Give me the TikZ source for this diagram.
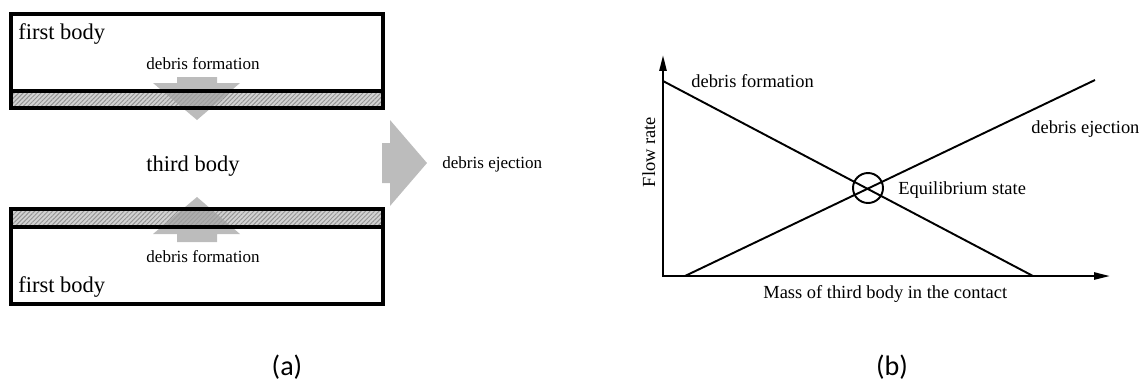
\documentclass[tikz,border=0pt]{standalone}
\usepackage{fontspec}
\setmainfont{Liberation Serif}
\newfontfamily\capfont{Carlito}
\usetikzlibrary{arrows.meta, patterns.meta}
\definecolor{cArrow}{RGB}{160,160,160}
\definecolor{cHatch}{RGB}{210,210,210}
\tikzset{
	body/.style ={draw=black, line width=1.9pt},
	band/.style ={fill=cHatch},
	hatch/.style={pattern={Lines[angle=45, distance=1.8pt, line width=0.55pt]}, pattern color=gray!85},
	flux/.style ={fill=cArrow, fill opacity=0.7},
	big/.style  ={font=\fontsize{12.8}{15}\selectfont, inner sep=0pt},
	small/.style={font=\fontsize{9.7}{12}\selectfont, inner sep=0pt},
	lbl/.style  ={font=\fontsize{10.5}{13}\selectfont, inner sep=0pt},
	panel/.style={font=\capfont\fontsize{16}{19}\selectfont, inner sep=0pt},
	axis/.style ={line width=1.2pt, {Triangle[length=9pt,width=4pt]}-{Triangle[length=9pt,width=4pt]}},
	rate/.style ={line width=1.1pt},
}
\begin{document}
\begin{tikzpicture}[x=0.02cm, y=-0.02cm]
	\useasboundingbox (0,0) rectangle (1140,380);
	% (a) first bodies and third body
	\fill[band] (11,91) rectangle (383,108);
	\fill[hatch] (11,91) rectangle (383,108);
	\fill[band] (11,209) rectangle (383,227);
	\fill[hatch] (11,209) rectangle (383,227);
	\fill[flux] (177,77) -- (217,77) -- (217,83) -- (240,83) -- (197,120) -- (153,83) -- (177,83) -- cycle;
	\fill[flux] (177,242) -- (217,242) -- (217,234) -- (240,234) -- (197,197) -- (153,234) -- (177,234) -- cycle;
	\fill[flux] (382,143) -- (390,143) -- (390,120) -- (427,163) -- (390,206) -- (390,183) -- (382,183) -- cycle;
	\draw[body] (11,14) rectangle (383,108);
	\draw[body] (11,91) -- (383,91);
	\draw[body] (11,209) rectangle (383,304);
	\draw[body] (11,227) -- (383,227);
	\node[big, anchor=west] (topbody) at (18,34) {first body};
	\node[small, anchor=base] (topform) at (203,69) {debris formation};
	\node[big, anchor=base] (third) at (193,171) {third body};
	\node[small, anchor=base west] (eject) at (442,168) {debris ejection};
	\node[small, anchor=base] (botform) at (203,262) {debris formation};
	\node[big, anchor=west] (botbody) at (18,287) {first body};
	\node[panel] (capa) at (287,367) {(a)};
	% (b) flow rates
	\coordinate (o) at (663,276);
	\coordinate (ytip) at (663,55);
	\coordinate (xtip) at (1110,276);
	\coordinate (f0) at (663,81);
	\coordinate (f1) at (1033,276);
	\coordinate (e0) at (685,276);
	\coordinate (e1) at (1095,80);
	\draw[axis] (ytip) -- (o) -- (xtip);
	\draw[rate] (f0) -- (f1);
	\draw[rate] (e0) -- (e1);
	\node[circle, draw, rate, minimum size=0.6cm, inner sep=0pt] (eq) at (868,188) {};
	\node[lbl, anchor=base west] (formlbl) at (691,87) {debris formation};
	\node[lbl, anchor=base west] (ejectlbl) at (1031,133) {debris ejection};
	\node[lbl, anchor=base west] (eqlbl) at (898,194) {Equilibrium state};
	\node[lbl, anchor=base west] (xlbl) at (763,298) {Mass of third body in the contact};
	\node[lbl, anchor=base, rotate=90] (ylbl) at (655,152) {Flow rate};
	\node[panel] (capb) at (892,367) {(b)};
\end{tikzpicture}
\end{document}
